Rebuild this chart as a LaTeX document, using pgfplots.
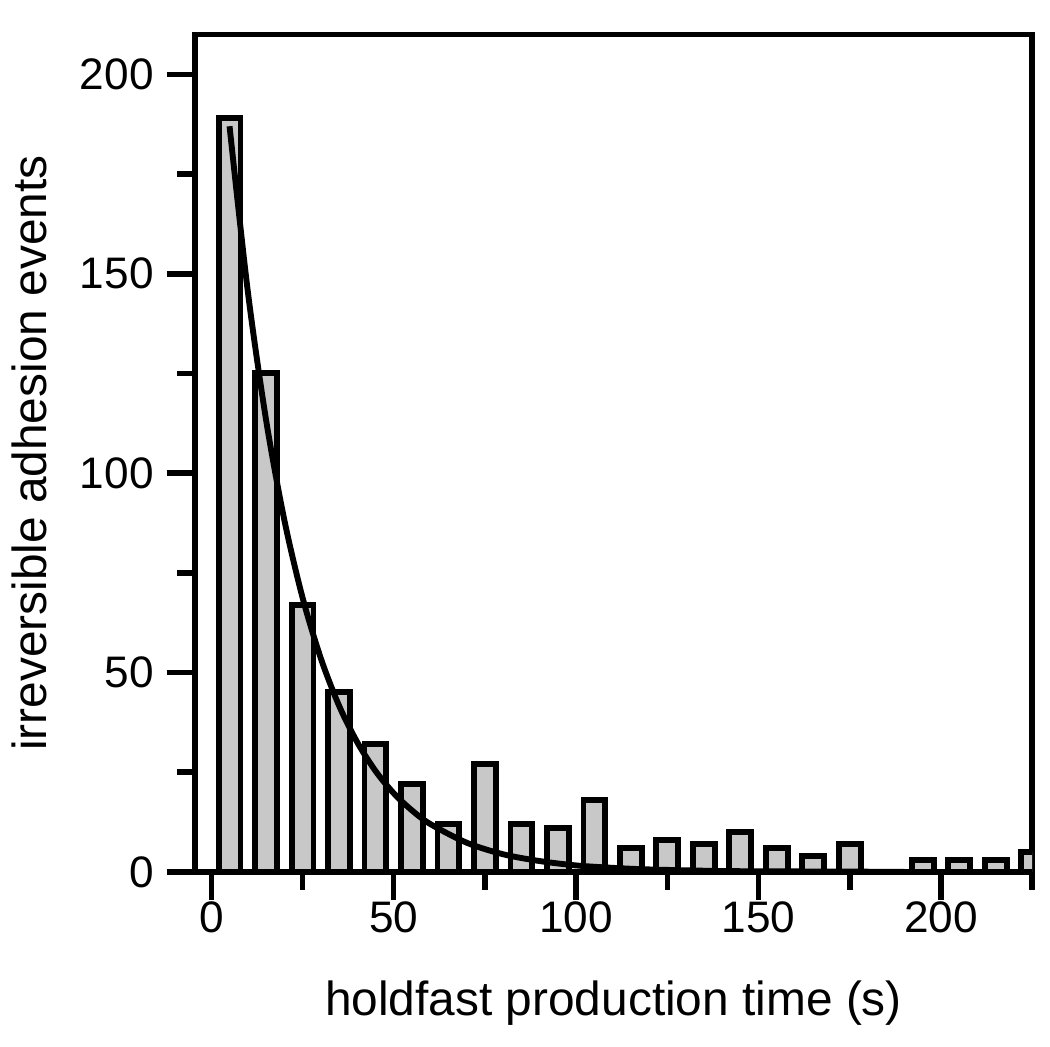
\documentclass[border=0pt]{standalone}
\usepackage{pgfplots}
\pgfplotsset{compat=1.18}
\usepackage{fontspec}
\setmainfont{Liberation Sans}
\definecolor{barfill}{RGB}{200,200,200}
\begin{document}
\begin{tikzpicture}
\begin{axis}[
  width=8cm, height=8cm, scale only axis,
  xmin=-4.5, xmax=225, ymin=0, ymax=210,
  axis line style={line width=1.6pt},
  xtick={0,50,100,150,200}, minor xtick={25,75,125,175,225},
  ytick={0,50,100,150,200}, minor ytick={25,75,125,175},
  tick align=outside, tick pos=left,
  major tick length=0.27cm, minor tick length=0.17cm,
  every tick/.style={black, line width=1.5pt},
  tick label style={font=\fontsize{12}{14}\selectfont},
  label style={font=\fontsize{13}{15}\selectfont},
  /pgf/number format/assume math mode=true,
  xlabel={holdfast production time (s)},
  ylabel={irreversible adhesion events},
  xlabel style={yshift=-6pt},
  ylabel style={yshift=2pt},
  xticklabel style={yshift=3pt},
  yticklabel style={xshift=0pt},
]
\addplot[ybar, bar width=6, fill=barfill, draw=black, line width=1.6pt] coordinates {
(5,189) (15,125) (25,67) (35,45) (45,32) (55,22) (65,12) (75,27) (85,12) (95,11)
(105,18) (115,6) (125,8) (135,7) (145,10) (155,6) (165,4) (175,7) (195,3)
(205,3) (215,3) (225,5)};
\addplot[black, line width=1.6pt, smooth] coordinates {
(5,187) (10,145.6) (15,113.4) (20,88.3) (25,68.8) (30,53.6) (35,41.7) (40,32.5)
(45,25.3) (50,19.7) (55,15.4) (60,12.0) (70,7.3) (80,4.4) (90,2.7) (100,1.6)
(110,1.0) (120,0.6) (140,0.2) (160,0.1) (190,0.0)};
\end{axis}
\path (current axis.north east) ++(0.17cm,0.33cm);
\path (current axis.south west) ++(-1.84cm,-1.67cm);
\end{tikzpicture}
\end{document}
